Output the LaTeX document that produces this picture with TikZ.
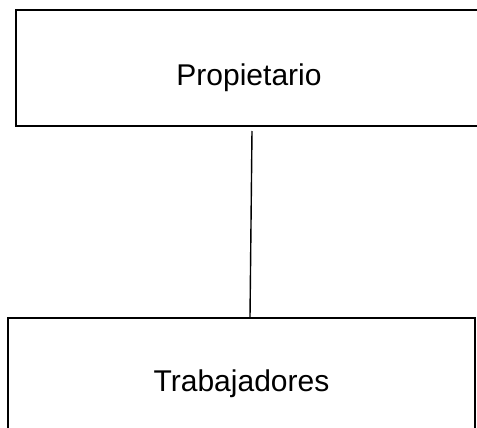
\documentclass[tikz,border=0pt]{standalone}
\usepackage{fontspec}
\setmainfont{Liberation Sans}
\begin{document}
\begin{tikzpicture}[x=1pt,y=1pt,
  boxstyle/.style={draw=black, line width=2pt, rectangle, inner sep=0pt, font=\fontsize{30}{36}\selectfont},
  linkstyle/.style={draw=black, line width=1.4pt}]
\useasboundingbox (0,0) rectangle (477,-428);
\clip (0,0) rectangle (477,-428);
\node[boxstyle, minimum width=466pt, minimum height=116pt] (top) at (249,-68) {\raisebox{-18pt}[0pt][0pt]{Propietario}};
\node[boxstyle, minimum width=467pt, minimum height=124pt] (bot) at (241.5,-380) {\raisebox{-11pt}[0pt][0pt]{Trabajadores}};
\draw[linkstyle] ([xshift=3pt,yshift=-4pt]top.south) -- ([xshift=8.5pt]bot.north);
\end{tikzpicture}
\end{document}
